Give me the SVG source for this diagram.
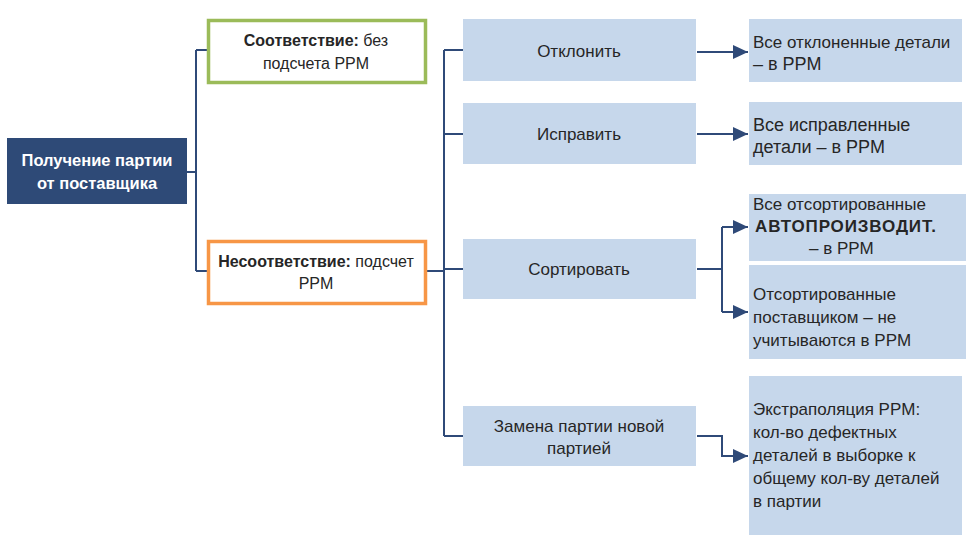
<svg xmlns="http://www.w3.org/2000/svg" width="969" height="544" viewBox="0 0 969 544">
<defs>
<style>
.t{font-family:"Liberation Sans",Arial,sans-serif;font-size:17px;fill:#262626}
.c{text-anchor:middle}
.b{font-weight:bold}
.w{fill:#ffffff;font-weight:bold;font-size:16.5px}
.s{font-size:16px}
.r{font-size:18px}
.blue{fill:#C6D7EB}
.con{fill:none;stroke:#2F4A78;stroke-width:2}
</style>
<marker id="ah" markerUnits="userSpaceOnUse" markerWidth="16" markerHeight="16" viewBox="0 0 16 16" refX="15" refY="8" orient="auto">
<path d="M0,1 L15,8 L0,15 Z" fill="#2F4A78"/>
</marker>
</defs>
<rect width="969" height="544" fill="#ffffff"/>

<g id="connectors">
<path class="con" d="M187,172 H196 M196,50 V271 M196,50 H207 M196,271 H207"/>
<path class="con" d="M426,271 H444 M444,50 V436 M444,50 H463 M444,134 H463 M444,269 H463 M444,436 H463"/>
<path class="con" d="M697,52 H748" marker-end="url(#ah)"/>
<path class="con" d="M697,134 H748" marker-end="url(#ah)"/>
<path class="con" d="M697,269 H722 M722,227 V312"/>
<path class="con" d="M722,227 H748" marker-end="url(#ah)"/>
<path class="con" d="M722,312 H748" marker-end="url(#ah)"/>
<path class="con" d="M697,436 H722 V456 H748" marker-end="url(#ah)"/>
</g>

<g id="n-main">
<rect x="7" y="138" width="180" height="66" fill="#2E4A77"/>
<text class="t w c" x="97" y="166">Получение партии</text>
<text class="t w c" x="97" y="189">от поставщика</text>
</g>

<g id="n-conform">
<rect x="208.5" y="20.5" width="217" height="62" fill="#ffffff" stroke="#9BBB59" stroke-width="3.5"/>
<text class="t s c" x="316" y="46"><tspan class="b">Соответствие:</tspan> без</text>
<text class="t s c" x="316" y="69">подсчета PPM</text>
</g>

<g id="n-nonconform">
<rect x="208.5" y="241.5" width="217" height="62" fill="#ffffff" stroke="#F79646" stroke-width="3.5"/>
<text class="t s c" x="316" y="267"><tspan class="b">Несоответствие:</tspan> подсчет</text>
<text class="t s c" x="316" y="289">PPM</text>
</g>

<g id="n-reject">
<rect class="blue" x="463" y="19" width="233" height="62"/>
<text class="t c" x="579" y="57">Отклонить</text>
</g>

<g id="n-fix">
<rect class="blue" x="463" y="103" width="233" height="61"/>
<text class="t c" x="579" y="140">Исправить</text>
</g>

<g id="n-sort">
<rect class="blue" x="463" y="239" width="233" height="60"/>
<text class="t c" x="579" y="275">Сортировать</text>
</g>

<g id="n-replace">
<rect class="blue" x="463" y="406" width="233" height="60"/>
<text class="t c" x="579" y="432">Замена партии новой</text>
<text class="t c" x="579" y="454">партией</text>
</g>

<g id="r-reject">
<rect class="blue" x="749" y="19" width="213" height="63"/>
<text class="t" x="753" y="48" font-size="17.5">Все отклоненные детали</text>
<text class="t r" x="753" y="70">– в PPM</text>
</g>

<g id="r-fix">
<rect class="blue" x="749" y="102" width="213" height="63"/>
<text class="t r" x="753" y="131">Все исправленные</text>
<text class="t r" x="753" y="153">детали – в PPM</text>
</g>

<g id="r-sort-auto">
<rect class="blue" x="749" y="194" width="217" height="67"/>
<text class="t" x="753" y="210">Все отсортированные</text>
<text class="t b" x="755" y="232" font-size="19" textLength="181" lengthAdjust="spacing">АВТОПРОИЗВОДИТ.</text>
<text class="t" x="809" y="254" font-size="15">– в PPM</text>
</g>

<g id="r-sort-supplier">
<rect class="blue" x="749" y="265" width="217" height="94"/>
<text class="t" x="753" y="300">Отсортированные</text>
<text class="t" x="753" y="323">поставщиком – не</text>
<text class="t" x="753" y="346">учитываются в PPM</text>
</g>

<g id="r-extrapolation">
<rect class="blue" x="749" y="376" width="213" height="159"/>
<text class="t" x="753" y="415" font-size="18.5">Экстраполяция PPM:</text>
<text class="t" x="753" y="438" font-size="18.5">кол-во дефектных</text>
<text class="t" x="753" y="461" font-size="18.5">деталей в выборке к</text>
<text class="t" x="753" y="484" font-size="18.5">общему кол-ву деталей</text>
<text class="t" x="753" y="507" font-size="18.5">в партии</text>
</g>
</svg>
